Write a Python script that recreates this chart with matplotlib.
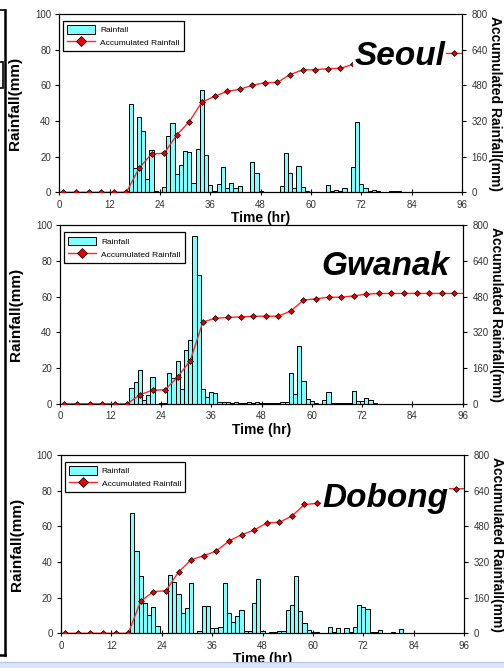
import matplotlib
matplotlib.use("Agg")
import matplotlib.pyplot as plt
from matplotlib.patches import Patch, Rectangle
from matplotlib.lines import Line2D

plt.rcParams['font.family'] = ['Liberation Sans', 'DejaVu Sans']

# hourly rainfall (mm), hours 1..96
hours = list(range(1, 97))
seoul_rain = [0] * 16 + [
    49.5, 13.8, 42, 34.5, 7.5, 24, 0.5, 0,
    2.8, 31.7, 39, 10, 15.5, 23, 22.5, 5,
    24.5, 57.5, 21, 4, 0.8, 4.5, 14, 2.5,
    5, 2.2, 3.5, 0.3, 0.3, 17, 11, 1,
    0.3, 0.3, 0.3, 0.3, 3.5, 22, 11, 2.5,
    14.5, 3, 0.5, 0.3, 0.2, 0.2, 0, 4,
    0.5, 1.2, 0.5, 2.5, 0.3, 14, 39.5, 4.5,
    2.5, 0.5, 1.5, 0.5, 0.2, 0.2, 0.5, 1,
    1] + [0] * 15
gwanak_rain = [0] * 16 + [
    9, 12, 19, 2, 5, 15, 0, 0.3,
    0.5, 17, 14.5, 24, 8.5, 30, 36, 94,
    72, 8, 3.5, 6.3, 6, 1.2, 1.2, 1.2,
    0.3, 1, 0.5, 0.5, 1.2, 0.3, 1.2, 0.5,
    0.3, 0.3, 0.3, 0.3, 0.8, 1.2, 17.5, 5.6,
    32.5, 13, 2.4, 1.5, 0.2, 0.1, 2, 6.3,
    0.2, 0.2, 0.2, 0.2, 0.2, 7, 1.5, 1.5,
    3, 2.3, 0.5] + [0] * 21
dobong_rain = [0] * 16 + [
    67.5, 46, 32, 17, 10.5, 14.5, 4, 0,
    0.3, 32.5, 28.5, 22.2, 11.2, 14, 28.4, 0,
    1.5, 15.5, 15.5, 2.8, 2.8, 3.7, 28, 11.4,
    6.2, 9.5, 13.3, 1.3, 1.3, 16.8, 30.3, 1.1,
    0.2, 0.5, 0.5, 1.2, 1.2, 12.9, 16, 32,
    12.3, 6, 2, 1, 0.5, 0.2, 0, 3.5,
    0.5, 2.8, 0.3, 2.7, 1, 3.5, 16, 15,
    13.5, 0.5, 1, 2, 0.3, 0, 1, 0,
    2.2] + [0] * 15

# accumulated rainfall (mm), marked every 3 hours, line runs to hour 96
acc_hours = list(range(1, 95, 3)) + [96]
seoul_acc = [0, 0, 0, 0, 0, 0, 108, 172, 175, 257, 317, 405, 430, 453, 462, 480,
             492, 493, 528, 549, 550, 555, 556, 574, 622, 623, 623, 623, 623, 623,
             623, 623, 623]
gwanak_acc = [0, 0, 0, 0, 0, 0, 40, 61, 62, 120, 193, 366, 384, 387, 390, 392,
              393, 393, 416, 465, 471, 478, 478, 484, 492, 495, 495, 495, 495, 495,
              495, 495, 495]
dobong_acc = [0, 0, 0, 0, 0, 0, 144, 187, 191, 275, 330, 348, 369, 414, 442, 463,
              495, 498, 526, 578, 583, 584, 586, 595, 641, 645, 648, 648, 649, 649,
              649, 649, 649]

stations = ['Seoul', 'Gwanak', 'Dobong']
rains = [seoul_rain, gwanak_rain, dobong_rain]
accs = [seoul_acc, gwanak_acc, dobong_acc]

W, H = 504, 668
# axes boxes in pixels: left, top, right, bottom
boxes = [(59.3, 14, 462, 192.3), (60.3, 225.5, 462.7, 403.7), (61, 455, 464, 633.3)]
name_pos = [(0.845, 0.714), (0.807, 0.722), (0.804, 0.708)]

fig = plt.figure(figsize=(W / 100, H / 100), dpi=100)

bar_color = '#80FFFF'
line_color = '#FF2828'
tick_color = '#333333'

for i in range(3):
    l, t, r, b = boxes[i]
    ax = fig.add_axes([l / W, 1 - b / H, (r - l) / W, (b - t) / H])
    ax2 = ax.twinx()

    ax.bar(hours, rains[i], width=1.0, color=bar_color, edgecolor='black',
           linewidth=0.7, zorder=2)
    ax2.plot(acc_hours, accs[i], color=line_color, lw=1.0, marker='D',
             markersize=3.0, markerfacecolor='#EE0000', markeredgecolor='black',
             markeredgewidth=0.5, markevery=list(range(len(acc_hours) - 1)),
             zorder=3)

    ax.set_xlim(0, 96)
    ax.set_ylim(0, 100)
    ax2.set_ylim(0, 800)
    ax.set_xticks(range(0, 97, 12))
    ax.set_yticks(range(0, 101, 20))
    ax2.set_yticks(range(0, 801, 160))

    ax.tick_params(axis='x', direction='inout', length=5, width=0.8,
                   labelsize=7, labelcolor=tick_color, pad=3)
    ax.tick_params(axis='y', direction='out', length=3, width=0.8,
                   labelsize=7, labelcolor=tick_color, pad=3)
    ax2.tick_params(axis='y', direction='out', length=3, width=0.8,
                    labelsize=7, labelcolor=tick_color, pad=4)
    for a in (ax, ax2):
        for s in a.spines.values():
            s.set_linewidth(0.8)

    ax.set_xlabel('Time (hr)', fontsize=10, fontweight='bold', labelpad=1)
    ax.set_ylabel('Rainfall(mm)', fontsize=11, fontweight='bold')
    ax.yaxis.set_label_coords(-0.093, 0.5)
    ax2.set_ylabel('Accumulated Rainfall(mm)', fontsize=10, fontweight='bold',
                   rotation=270, va='center')
    ax2.yaxis.set_label_coords(1.083, 0.5)

    handles = [Patch(facecolor=bar_color, edgecolor='black', linewidth=0.7),
               Line2D([], [], color=line_color, lw=1.0, marker='D', markersize=5.5,
                      markerfacecolor='#EE0000', markeredgecolor='black',
                      markeredgewidth=0.5)]
    leg = ax.legend(handles, ['Rainfall', 'Accumulated Rainfall'], loc='upper left',
                    bbox_to_anchor=(0.009, 0.961), borderaxespad=0, fontsize=6,
                    handlelength=3.4, handleheight=1.2, handletextpad=0.55,
                    labelspacing=0.45, borderpad=0.5, fancybox=False,
                    framealpha=1, edgecolor='black')
    leg.get_frame().set_linewidth(0.9)
    leg.set_zorder(1)

    ax2.text(name_pos[i][0], name_pos[i][1], stations[i], transform=ax2.transAxes,
             fontsize=24, fontweight='bold', fontstyle='italic', ha='center',
             va='baseline', zorder=5,
             bbox=dict(facecolor='white', edgecolor='none', pad=0.5))

# left edge frame remnants and bottom strip
fig.add_artist(Line2D([5 / W, 5 / W], [1 - 10 / H, 1 - 655 / H], color='black', lw=1.8))
fig.add_artist(Line2D([0, 5 / W], [1 - 655 / H, 1 - 655 / H], color='black', lw=1.8))
fig.add_artist(Line2D([0, 5 / W], [1 - 10 / H, 1 - 10 / H], color='black', lw=1.2))
fig.add_artist(Rectangle((-2 / W, 1 - 88 / H), 5 / W, 26 / H, transform=fig.transFigure,
                         facecolor='none', edgecolor='black', lw=1.2))
fig.add_artist(Rectangle((0, 0), 1, 6 / H, transform=fig.transFigure,
                         facecolor='#DDE4F8', edgecolor='none'))
fig.add_artist(Line2D([0, 1], [6 / H, 6 / H], color='#B8C2E6', lw=0.8))

fig.savefig('out.png', dpi=100)
